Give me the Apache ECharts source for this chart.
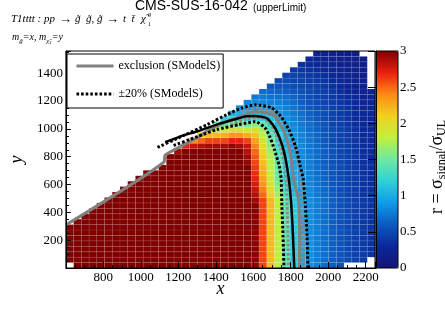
<!DOCTYPE html>
<html><head><meta charset="utf-8">
<script src="https://cdn.jsdelivr.net/npm/echarts@6.0.0/dist/echarts.min.js"></script>
<style>html,body{margin:0;padding:0;background:#fff}#c{width:445px;height:319px}</style>
</head><body><div id="c"></div>
<script>
// ---------------- data ----------------
const xTickLabels = [800, 1000, 1200, 1400, 1600, 1800, 2000, 2200];
const yTickLabels = [200, 400, 600, 800, 1000, 1200, 1400];
const zTickLabels = [0, 0.5, 1, 1.5, 2, 2.5, 3];

// histogram binning (40 x-bins from 600 to 2250, 40 y-bins from 0 to 1560)
const X_BIN_START = 600, X_BIN_WIDTH = 41.25;
const Y_BIN_START = 0, Y_BIN_WIDTH = 39;

// first filled y-bin of every x-bin
const colBottomRow = [1,0,0,0,0,0,0,0,0,0, 0,0,0,0,0,0,0,0,0,0, 0,0,0,0,0,0,0,0,0,0, 0,0,0,0,0,0,1,1,1,2];

// r = sigma_signal / sigma_UL, each x-bin listed from its first filled y-bin upward
const rByColumn = [
 [3,3,3,3,3,3,3],
 [3,3,3,3,3,3,3,3,3],
 [3,3,3,3,3,3,3,3,3,3],
 [3,3,3,3,3,3,3,3,3,3, 3],
 [3,3,3,3,3,3,3,3,3,3, 3,3],
 [3,3,3,3,3,3,3,3,3,3, 3,3,3],
 [3,3,3,3,3,3,3,3,3,3, 3,3,3,3],
 [3,3,3,3,3,3,3,3,3,3, 3,3,3,3,3],
 [3,3,3,3,3,3,3,3,3,3, 3,3,3,3,3,3],
 [3,3,3,3,3,3,3,3,3,3, 3,3,3,3,3,3,3],
 [3,3,3,3,3,3,3,3,3,3, 3,3,3,3,3,3,3,3],
 [3,3,3,3,3,3,3,3,3,3, 3,3,3,3,3,3,3,3],
 [3,3,3,3,3,3,3,3,3,3, 3,3,3,3,3,3,3,3,3],
 [3,3,3,3,3,3,3,3,3,3, 3,3,3,3,3,3,3,3,3,3, 3],
 [3,3,3,3,3,3,3,3,3,3, 3,3,3,3,3,3,3,3,3,3, 3,2.9],
 [3,3,3,3,3,3,3,3,3,3, 3,3,3,3,3,3,3,3,3,3, 3,3,2.7],
 [3,3,3,3,3,3,3,3,3,3, 3,3,3,3,3,3,3,3,3,3, 3,3,2.8,2.4],
 [3,3,3,3,3,3,3,3,3,3, 3,3,3,3,3,3,3,3,3,3, 3,3,2.85,2.5,2.1],
 [3,3,3,3,3,3,3,3,3,3, 3,3,3,3,3,3,3,3,3,3, 3,3,2.9,2.6,2.2,1.8],
 [3,3,3,3,3,3,3,3,3,3, 3,3,3,3,3,3,3,3,3,3, 3,3,2.9,2.6,2.2,1.8,1.45],
 [3,3,3,3,3,3,3,3,3,3, 3,3,3,3,3,3,3,3,3,3, 3,3,2.9,2.6,2.25,1.85,1.5,1.2],
 [3,3,3,3,3,3,3,3,3,3, 3,3,3,3,3,3,3,3,3,3, 3,3,2.95,2.7,2.35,1.95,1.55,1.25,1.0],
 [3,3,3,3,3,3,3,3,3,3, 3,3,3,3,3,3,3,3,3,3, 3,3,2.9,2.7,2.35,1.95,1.6,1.25,1.02,0.88],
 [3,3,3,3,3,3,3,3,3,3, 3,3,3,3,3,3,3,3,3,2.95, 2.92,2.85,2.8,2.6,2.25,1.85,1.5,1.22,1.02,0.9, 0.8],
 [2.97,2.97,2.97,2.97,2.97,2.97,2.97,2.97,2.97,2.97, 2.97,2.97,2.92,2.85,2.8,2.75,2.7,2.67,2.63,2.6, 2.55,2.5,2.42,2.3,2.15,1.95,1.6,1.3,1.07,0.93, 0.83,0.75],
 [2.6,2.6,2.6,2.6,2.6,2.6,2.6,2.6,2.6,2.6, 2.6,2.6,2.6,2.5,2.43,2.36,2.3,2.26,2.23,2.18, 2.14,2.07,2.0,1.91,1.79,1.69,1.46,1.22,1.04,0.91, 0.82,0.75,0.68],
 [2.2,2.2,2.2,2.2,2.2,2.2,2.2,2.2,2.2,2.2, 2.2,2.2,2.2,2.08,2.01,1.94,1.87,1.83,1.8,1.77, 1.74,1.68,1.62,1.55,1.45,1.37,1.26,1.12,1.0,0.87, 0.78,0.71,0.65,0.58],
 [1.78,1.78,1.78,1.78,1.78,1.78,1.78,1.78,1.78,1.78, 1.78,1.78,1.78,1.7,1.64,1.57,1.5,1.48,1.46,1.43, 1.4,1.35,1.3,1.26,1.2,1.12,1.05,0.97,0.89,0.85, 0.77,0.7,0.64,0.57,0.51],
 [1.43,1.43,1.43,1.43,1.43,1.43,1.43,1.43,1.43,1.43, 1.43,1.43,1.43,1.35,1.3,1.26,1.22,1.2,1.17,1.15, 1.13,1.09,1.05,1.02,0.99,0.95,0.91,0.86,0.82,0.78, 0.73,0.68,0.62,0.56,0.5,0.46],
 [1.16,1.16,1.16,1.16,1.16,1.16,1.16,1.16,1.16,1.16, 1.16,1.16,1.16,1.1,1.06,1.03,0.99,0.98,0.97,0.96, 0.95,0.93,0.91,0.89,0.88,0.85,0.81,0.78,0.76,0.72, 0.69,0.64,0.58,0.53,0.48,0.45,0.41],
 [0.96,0.96,0.96,0.96,0.96,0.96,0.96,0.96,0.96,0.96, 0.96,0.96,0.96,0.93,0.91,0.89,0.88,0.87,0.86,0.85, 0.84,0.83,0.82,0.8,0.79,0.77,0.74,0.72,0.69,0.65, 0.61,0.58,0.54,0.5,0.46,0.43,0.39,0.35],
 [0.85,0.85,0.85,0.85,0.85,0.85,0.85,0.85,0.85,0.85, 0.85,0.85,0.85,0.83,0.82,0.8,0.79,0.78,0.77,0.77, 0.76,0.75,0.74,0.72,0.72,0.69,0.68,0.65,0.63,0.6, 0.56,0.53,0.5,0.47,0.44,0.4,0.36,0.31,0.28],
 [0.77,0.77,0.77,0.77,0.77,0.77,0.77,0.77,0.77,0.77, 0.77,0.77,0.77,0.75,0.74,0.72,0.71,0.7,0.7,0.69, 0.69,0.68,0.67,0.65,0.65,0.63,0.62,0.58,0.56,0.53, 0.51,0.48,0.46,0.44,0.41,0.38,0.33,0.29,0.26,0.23],
 [0.7,0.7,0.7,0.7,0.7,0.7,0.7,0.7,0.7,0.7, 0.7,0.7,0.7,0.68,0.67,0.65,0.64,0.63,0.63,0.62, 0.62,0.61,0.59,0.58,0.57,0.56,0.55,0.52,0.51,0.49, 0.47,0.45,0.43,0.41,0.38,0.34,0.29,0.26,0.23,0.21],
 [0.62,0.62,0.62,0.62,0.62,0.62,0.62,0.62,0.62,0.62, 0.62,0.62,0.62,0.61,0.59,0.58,0.57,0.56,0.56,0.55, 0.55,0.54,0.52,0.51,0.5,0.5,0.48,0.47,0.46,0.45, 0.43,0.41,0.39,0.36,0.31,0.29,0.26,0.24,0.21,0.19],
 [0.55,0.55,0.55,0.55,0.55,0.55,0.55,0.55,0.55,0.55, 0.55,0.55,0.55,0.54,0.53,0.52,0.51,0.5,0.5,0.49, 0.49,0.48,0.47,0.46,0.45,0.45,0.44,0.43,0.41,0.4, 0.39,0.36,0.33,0.3,0.28,0.25,0.22,0.2,0.18,0.17],
 [0.5,0.5,0.5,0.5,0.5,0.5,0.5,0.5,0.5,0.5, 0.5,0.5,0.48,0.47,0.47,0.46,0.45,0.45,0.45,0.44, 0.43,0.43,0.42,0.41,0.4,0.39,0.38,0.37,0.36,0.34, 0.32,0.28,0.26,0.24,0.22,0.2,0.18,0.17,0.15],
 [0.45,0.45,0.45,0.45,0.45,0.45,0.45,0.45,0.45,0.45, 0.45,0.45,0.44,0.43,0.42,0.42,0.41,0.41,0.4,0.4, 0.39,0.38,0.37,0.36,0.36,0.34,0.32,0.31,0.3,0.29, 0.27,0.24,0.22,0.21,0.2,0.18,0.16,0.15,0.14],
 [0.4,0.4,0.4,0.4,0.4,0.4,0.4,0.4,0.4,0.4, 0.4,0.4,0.39,0.38,0.37,0.37,0.36,0.36,0.35,0.35, 0.34,0.33,0.32,0.31,0.3,0.29,0.28,0.27,0.26,0.25, 0.24,0.22,0.21,0.2,0.19,0.17,0.15,0.14],
 [0.36,0.36,0.36,0.36,0.36,0.36,0.36,0.36,0.36,0.36, 0.36,0.35,0.34,0.33,0.33,0.32,0.32,0.32,0.31,0.31, 0.3,0.29,0.28,0.28,0.27,0.26,0.25,0.25,0.24,0.23, 0.21]
];

// exclusion curves [mass gluino, mass LSP]
const officialExclusion = [[1130,905],[1220,950],[1303,983],[1421,1038],[1500,1068],[1559,1090],[1610,1093],[1671,1078],[1704,1031],[1730,971],[1756,876],[1773,781],[1790,639],[1802,473],[1812,236],[1819,0]];
const officialPlus = [[1089,867],[1216,945],[1355,1031],[1457,1102],[1540,1150],[1611,1173],[1698,1152],[1749,1087],[1790,995],[1826,874],[1851,732],[1867,639],[1877,475],[1887,233],[1892,0]];
const officialMinus = [[1175,881],[1303,945],[1406,995],[1524,1031],[1611,1052],[1662,1010],[1688,945],[1713,853],[1739,732],[1749,639],[1752,475],[1759,233],[1764,0]];
const smodelsExclusion = [[603,312],[1124,762],[1129,810],[1250,900],[1312,945],[1354,985],[1457,1052],[1559,1102],[1610,1125],[1703,1102],[1739,1043],[1775,945],[1800,803],[1815,639],[1841,497],[1846,240],[1846,0]];
const smodelsMinus20 = [[1480,1030],[1560,1070],[1640,1082],[1690,1040],[1722,960],[1748,850],[1768,720],[1778,600],[1782,400],[1786,200],[1788,0]];
const smodelsPlus20 = [[1540,1125],[1620,1150],[1700,1130],[1752,1070],[1795,975],[1825,850],[1848,700],[1860,550],[1868,300],[1870,0]];

const palette = ['#14147a','#0a2898','#0c5ac0','#109ae8','#30d0d8','#6ee8a0','#c0f040','#f0d020','#ff8a18','#e82010','#800000'];

// ---------------- build ----------------
const cells = [];
rByColumn.forEach((col, c) => {
  col.forEach((r, k) => {
    const row = colBottomRow[c] + k;
    cells.push([X_BIN_START + (c + 0.5) * X_BIN_WIDTH, Y_BIN_START + (row + 0.5) * Y_BIN_WIDTH, r]);
  });
});

function renderCell(params, api) {
  const xc = api.value(0), yc = api.value(1);
  const p0 = api.coord([xc - X_BIN_WIDTH / 2, yc + Y_BIN_WIDTH / 2]);
  const p1 = api.coord([xc + X_BIN_WIDTH / 2, yc - Y_BIN_WIDTH / 2]);
  return {
    type: 'rect',
    shape: { x: p0[0], y: p0[1], width: p1[0] - p0[0], height: p1[1] - p0[1] },
    style: { fill: api.visual('color'), stroke: 'rgba(255,255,255,0.13)', lineWidth: 0.6 }
  };
}

const SERIF = '"Liberation Serif", "DejaVu Serif", serif';
const SANS = '"Liberation Sans", Arial, sans-serif';

function lineSeries(name, data, color, width, type) {
  return {
    type: 'line', name: name, data: data, xAxisIndex: 0, yAxisIndex: 0,
    symbol: 'none', showSymbol: false, smooth: 0.2, z: 5, clip: true,
    lineStyle: { color: color, width: width, type: type, cap: 'butt' },
    itemStyle: { color: 'rgba(0,0,0,0)', borderWidth: 0 }
  };
}

function txt(x, y, s, font) {
  return { type: 'text', x: x, y: y, style: { text: s, font: font, fill: '#000', verticalAlign: 'top' } };
}
const F2 = 'italic 11px ' + SERIF;

const chart = echarts.init(document.getElementById('c'), null, { renderer: 'canvas' });
chart.setOption({
  animation: false,
  backgroundColor: '#fff',
  grid: [
    { left: 53, right: 70, top: 51, bottom: 51, show: true, borderColor: '#000', borderWidth: 1, backgroundColor: 'transparent', z: 10 },
    { left: 376, width: 22, top: 51, height: 217, show: true, borderColor: '#000', borderWidth: 1, backgroundColor: 'transparent', z: 10 }
  ],
  xAxis: [
    { type: 'value', gridIndex: 0, min: 600, max: 2250, interval: 200, z: 10,
      name: 'x', nameLocation: 'middle', nameGap: 12, nameMoveOverlap: false,
      nameTextStyle: { fontFamily: SERIF, fontStyle: 'italic', fontSize: 18, color: '#000' },
      axisLine: { show: true, lineStyle: { color: '#000', width: 1 } },
      axisTick: { show: true, inside: true, length: 6, lineStyle: { color: '#000' } },
      minorTick: { show: true, splitNumber: 4, length: 3, lineStyle: { color: '#000' } },
      axisLabel: { fontFamily: SERIF, fontSize: 13, color: '#000', margin: 3,
        formatter: v => xTickLabels.indexOf(v) >= 0 ? String(v) : '' },
      splitLine: { show: false } },
    { type: 'value', gridIndex: 1, min: 0, max: 1, show: false }
  ],
  yAxis: [
    { type: 'value', gridIndex: 0, min: 0, max: 1560, interval: 200, z: 10,
      name: 'y', nameLocation: 'middle', nameGap: 28,
      nameTextStyle: { fontFamily: SERIF, fontStyle: 'italic', fontSize: 18, color: '#000' },
      axisLine: { show: true, lineStyle: { color: '#000', width: 1 } },
      axisTick: { show: true, inside: true, length: 5, lineStyle: { color: '#000' } },
      minorTick: { show: true, splitNumber: 4, length: 3, lineStyle: { color: '#000' } },
      axisLabel: { fontFamily: SERIF, fontSize: 13, color: '#000', margin: 3,
        formatter: v => yTickLabels.indexOf(v) >= 0 ? String(v) : '' },
      splitLine: { show: false } },
    { type: 'value', gridIndex: 1, min: 0, max: 3, interval: 0.5, position: 'right', z: 10,
      axisLine: { show: true, lineStyle: { color: '#000', width: 1 } },
      axisTick: { show: true, inside: true, length: 8, lineStyle: { color: '#000' } },
      axisLabel: { fontFamily: SERIF, fontSize: 13, color: '#000', margin: 2,
        formatter: v => zTickLabels.indexOf(v) >= 0 ? String(v) : '' },
      splitLine: { show: false } }
  ],
  visualMap: {
    type: 'continuous', min: 0, max: 3, dimension: 2, seriesIndex: 0,
    orient: 'vertical', left: 376, top: 51, itemWidth: 22, itemHeight: 217,
    padding: 0, calculable: false, hoverLink: false, text: null,
    inRange: { color: palette }
  },
  legend: {
    data: ['exclusion (SModelS)', '\u00b120% (SModelS)'],
    orient: 'vertical', left: 67, top: 54,
    itemWidth: 37, itemHeight: 14, itemGap: 16,
    padding: [6, 3, 8, 8],
    backgroundColor: '#fff', borderColor: '#000', borderWidth: 1, borderRadius: 0,
    lineStyle: { width: 3 },
    textStyle: { fontFamily: SERIF, fontSize: 12, color: '#000' },
    selectedMode: false, z: 20
  },
  series: [
    { type: 'custom', name: 'r', data: cells, renderItem: renderCell, xAxisIndex: 0, yAxisIndex: 0,
      encode: { x: 0, y: 1 }, clip: true, z: 2, silent: true },
    lineSeries('smodels-20', smodelsMinus20, '#8a8a8a', 3, [2.6, 2]),
    lineSeries('smodels+20', smodelsPlus20, '#8a8a8a', 3, [2.6, 2]),
    lineSeries('exclusion (SModelS)', smodelsExclusion, '#808080', 3, 'solid'),
    lineSeries('official', officialExclusion, '#000', 2.5, 'solid'),
    lineSeries('\u00b120% (SModelS)', officialPlus, '#000', 3, [2.6, 2]),
    lineSeries('\u00b120% (SModelS)', officialMinus, '#000', 3, [2.6, 2])
  ],
  graphic: [
    txt(135, -1, 'CMS-SUS-16-042', '14px ' + SANS),
    txt(253, 3, '(upperLimit)', '10px ' + SANS),
    txt(11, 14, 'T1tttt : pp', F2),
    txt(59, 13, '\u2192', '13px ' + SERIF),
    txt(75, 14, 'g\u0303  g\u0303, g\u0303', F2),
    txt(106, 13, '\u2192', '13px ' + SERIF),
    txt(123, 14, 't  t\u0304', F2),
    txt(141, 14, '\u03c7\u0303', F2),
    txt(148, 12, '0', 'italic 6px ' + SERIF),
    txt(148, 21, '1', 'italic 6px ' + SERIF),
    { type: 'text', x: 12, y: 29, style: {
        text: '{m|m}{s|g\u0303}{m|=x, m}{s|\u03c7\u0303}{ss|1}{m|=y}',
        verticalAlign: 'top', fill: '#000',
        rich: {
          m: { fontFamily: SERIF, fontStyle: 'italic', fontSize: 10, lineHeight: 16, verticalAlign: 'middle' },
          s: { fontFamily: SERIF, fontStyle: 'italic', fontSize: 7, lineHeight: 9, verticalAlign: 'bottom' },
          ss: { fontFamily: SERIF, fontStyle: 'italic', fontSize: 5, lineHeight: 5, verticalAlign: 'bottom' }
        } } },
    { type: 'text', x: 437, y: 167, rotation: Math.PI / 2, style: {
        text: '{a|r = \u03c3}{b|signal}{a|/\u03c3}{b|UL}',
        align: 'center', verticalAlign: 'middle', fill: '#000',
        rich: {
          a: { fontFamily: SERIF, fontSize: 18, lineHeight: 22, verticalAlign: 'middle' },
          b: { fontFamily: SERIF, fontSize: 12, lineHeight: 12, verticalAlign: 'bottom' }
        } } }
  ]
});
</script></body></html>
